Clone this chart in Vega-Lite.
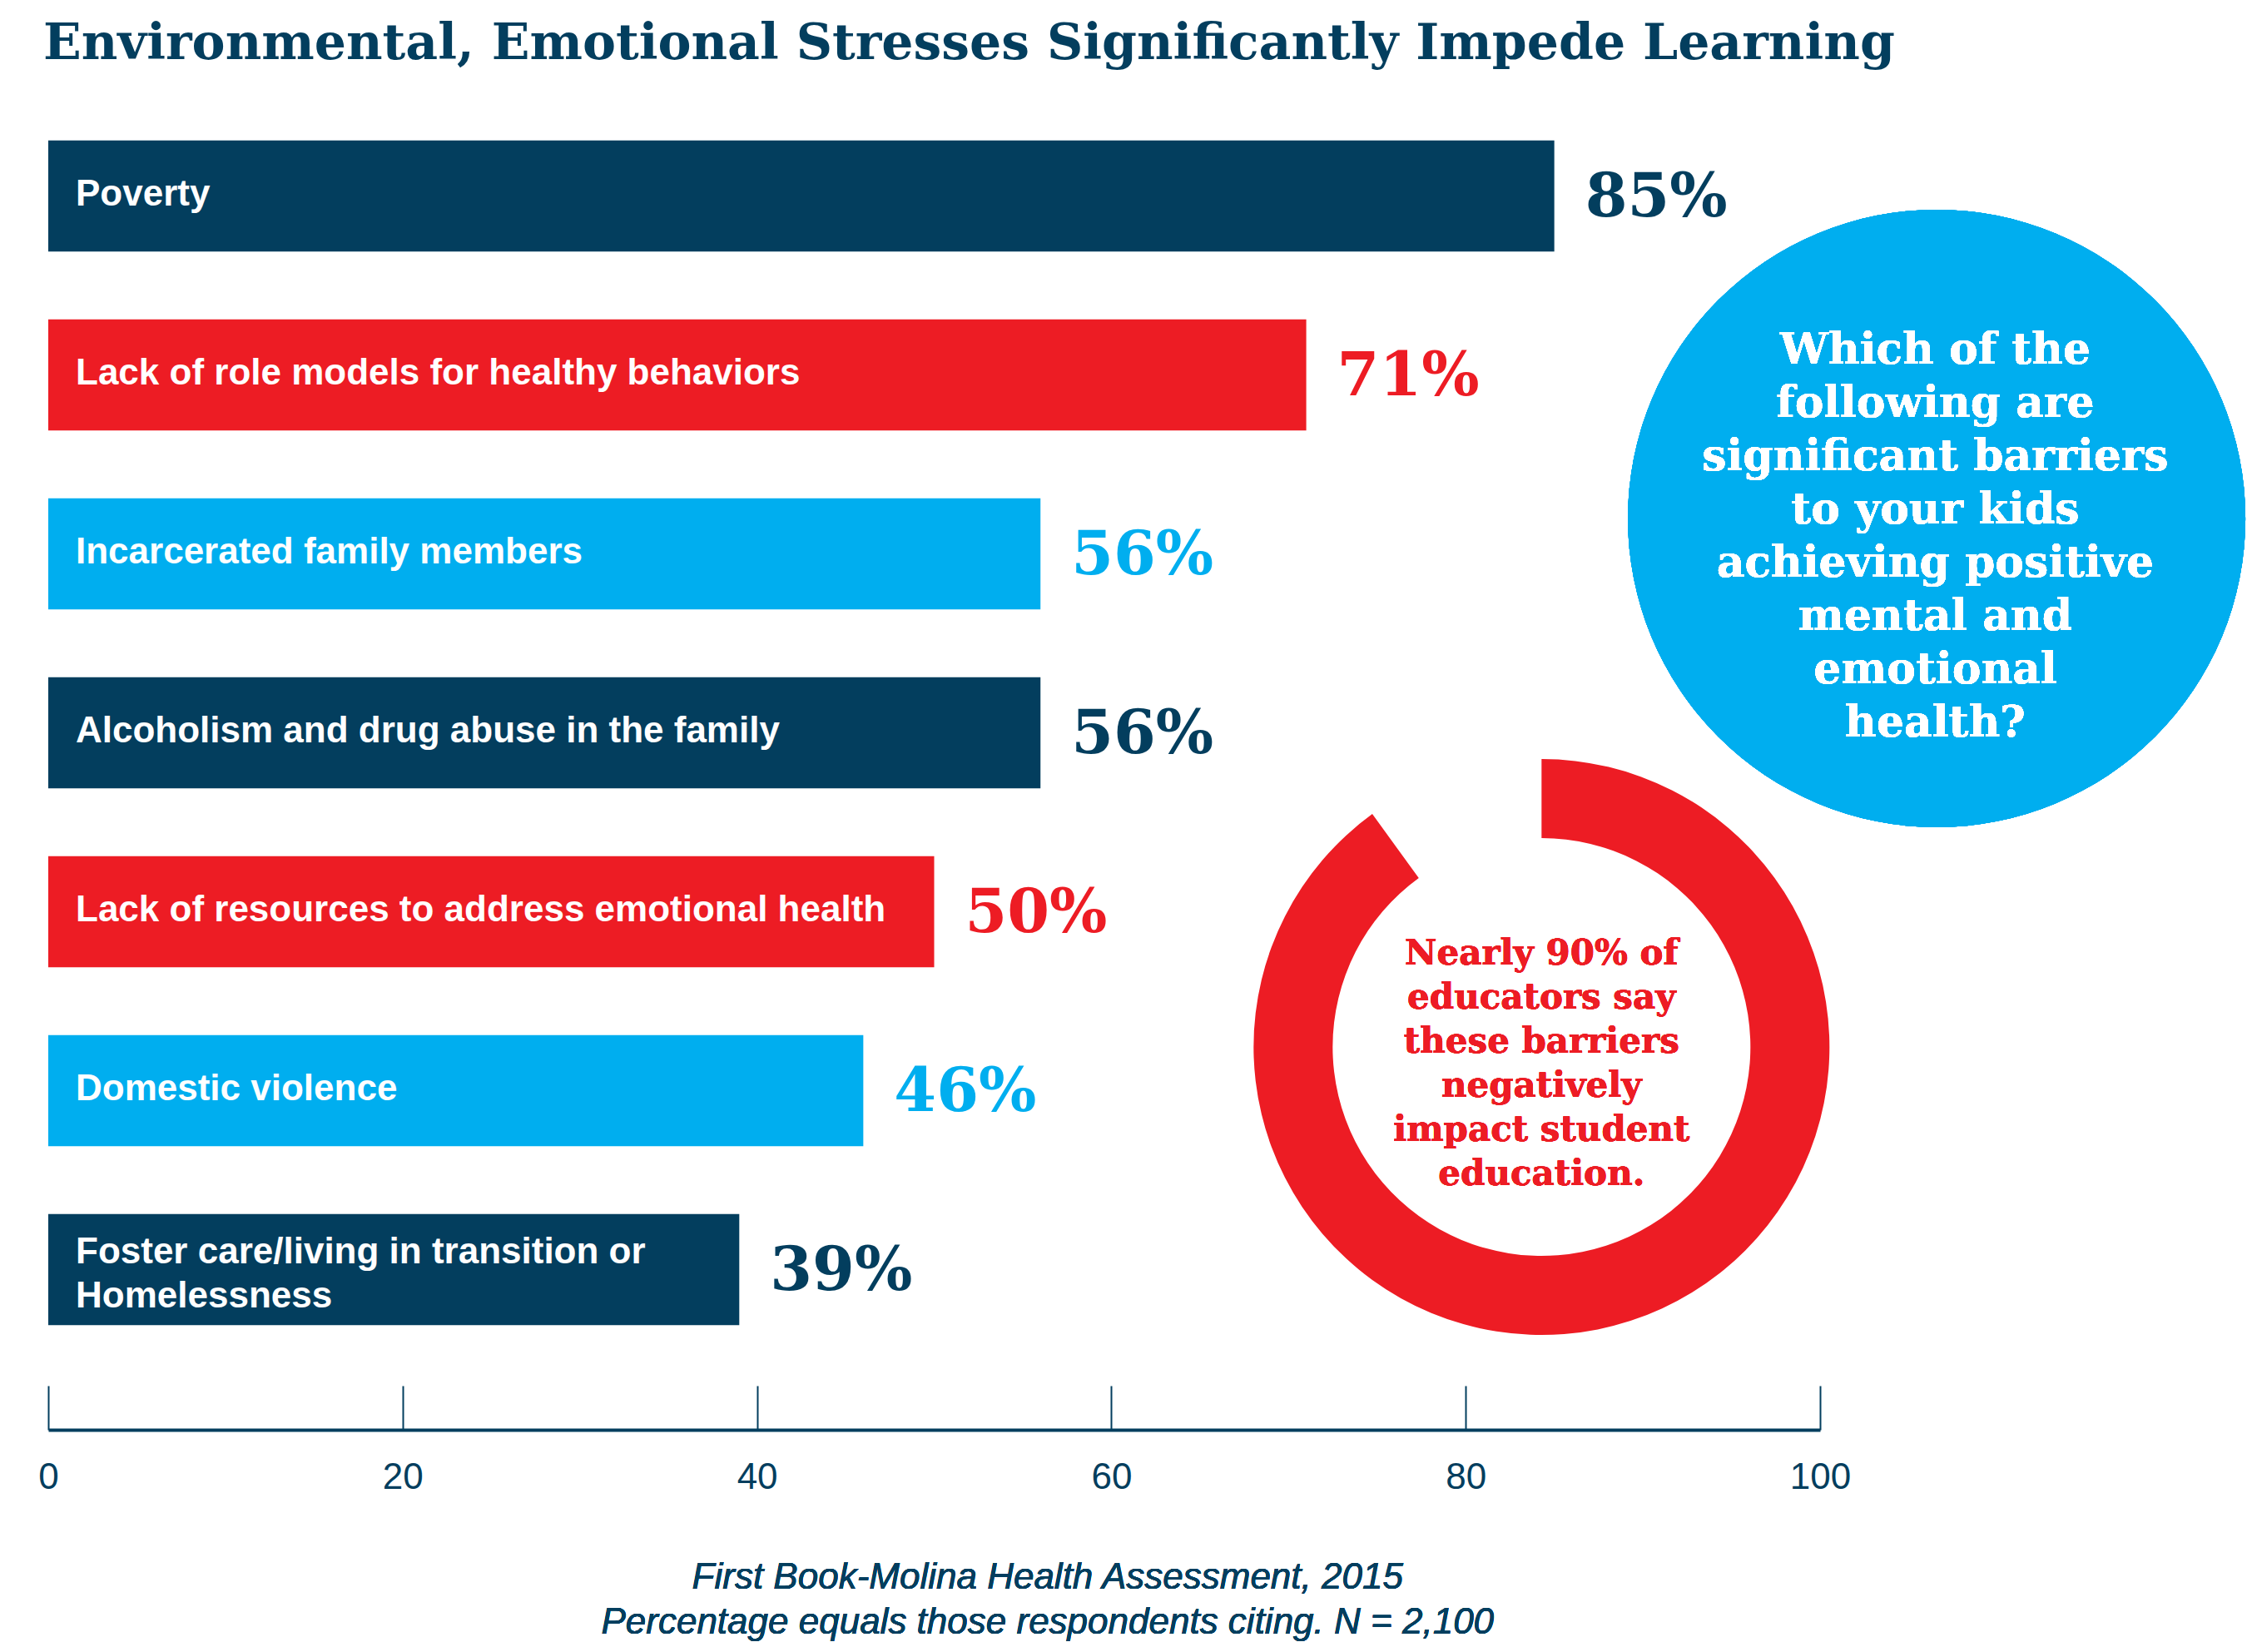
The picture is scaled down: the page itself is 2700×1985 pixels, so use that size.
{
  "$schema": "https://vega.github.io/schema/vega-lite/v6.json",
  "description": "Environmental, emotional stresses that impede learning, First Book-Molina Health Assessment 2015",
  "autosize": {"type": "none"},
  "padding": {"left": 58, "top": 128, "right": 513, "bottom": 352},
  "width": 2129,
  "height": 1505,
  "background": "white",
  "config": {"view": {"stroke": null}},
  "title": {
    "text": "Environmental, Emotional Stresses Significantly Impede Learning",
    "anchor": "start",
    "frame": "group",
    "font": "DejaVu Serif",
    "fontSize": 60,
    "fontWeight": "bold",
    "color": "#033e5e",
    "offset": 50,
    "dx": -6,
    "dy": 6
  },
  "data": {
    "values": [
      {"barrier": "Poverty", "label": "Poverty", "pct": 85},
      {"barrier": "Lack of role models", "label": "Lack of role models for healthy behaviors", "pct": 71},
      {"barrier": "Incarcerated family members", "label": "Incarcerated family members", "pct": 56},
      {"barrier": "Alcoholism and drug abuse", "label": "Alcoholism and drug abuse in the family", "pct": 56},
      {"barrier": "Lack of resources", "label": "Lack of resources to address emotional health", "pct": 50},
      {"barrier": "Domestic violence", "label": "Domestic violence", "pct": 46},
      {"barrier": "Foster care", "label": ["Foster care/living in transition or", "Homelessness"], "pct": 39}
    ]
  },
  "resolve": {"scale": {"y": "independent"}},
  "layer": [
    {
      "encoding": {
        "y": {
          "field": "barrier",
          "type": "nominal",
          "sort": null,
          "axis": null,
          "scale": {"paddingInner": 0.38, "paddingOuter": 0.19}
        }
      },
      "layer": [
        {
          "mark": {"type": "bar"},
          "encoding": {
            "x": {
              "field": "pct",
              "type": "quantitative",
              "scale": {"domain": [0, 100], "nice": false},
              "axis": {
                "values": [0, 20, 40, 60, 80, 100],
                "title": null,
                "grid": false,
                "offset": 85,
                "domainColor": "#033e5e",
                "domainWidth": 4,
                "tickColor": "#033e5e",
                "tickWidth": 2,
                "tickSize": -53,
                "labelPadding": 88,
                "labelFont": "Liberation Sans",
                "labelFontSize": 44,
                "labelColor": "#033e5e",
                "labelFlush": false
              }
            },
            "color": {
              "field": "barrier",
              "type": "nominal",
              "legend": null,
              "scale": {
                "domain": ["Poverty", "Lack of role models", "Incarcerated family members", "Alcoholism and drug abuse", "Lack of resources", "Domestic violence", "Foster care"],
                "range": ["#033e5e", "#ed1c24", "#00aeef", "#033e5e", "#ed1c24", "#00aeef", "#033e5e"]
              }
            }
          }
        },
        {
          "transform": [{"filter": "!isArray(datum.label)"}],
          "mark": {
            "type": "text",
            "align": "left",
            "baseline": "middle",
            "dx": 33,
            "dy": -2,
            "font": "Liberation Sans",
            "fontWeight": "bold",
            "fontSize": 44,
            "color": "white"
          },
          "encoding": {
            "x": {"datum": 0, "type": "quantitative"},
            "text": {"field": "label"}
          }
        },
        {
          "transform": [{"filter": "isArray(datum.label)"}],
          "mark": {
            "type": "text",
            "align": "left",
            "baseline": "middle",
            "dx": 33,
            "dy": -21,
            "font": "Liberation Sans",
            "fontWeight": "bold",
            "fontSize": 44,
            "lineHeight": 53,
            "color": "white"
          },
          "encoding": {
            "x": {"datum": 0, "type": "quantitative"},
            "text": {"field": "label"}
          }
        },
        {
          "transform": [{"calculate": "datum.pct + '%'", "as": "pctLabel"}],
          "mark": {
            "type": "text",
            "align": "left",
            "baseline": "middle",
            "dx": 37,
            "dy": 2,
            "font": "DejaVu Serif",
            "fontWeight": "bold",
            "fontSize": 73
          },
          "encoding": {
            "x": {"field": "pct", "type": "quantitative"},
            "text": {"field": "pctLabel"},
            "color": {"field": "barrier", "type": "nominal", "legend": null}
          }
        }
      ]
    },
    {
      "encoding": {
        "y": {
          "type": "quantitative",
          "axis": null,
          "scale": {"domain": [0, 7], "nice": false, "zero": false, "reverse": true}
        }
      },
      "layer": [
        {
          "mark": {"type": "point", "shape": "circle", "filled": true, "opacity": 1, "size": 550564, "color": "#00aeef"},
          "encoding": {
            "x": {"datum": 106.58, "type": "quantitative"},
            "y": {"datum": 2.302}
          }
        },
        {
          "mark": {
            "type": "text",
            "align": "center",
            "baseline": "middle",
            "font": "DejaVu Serif",
            "fontWeight": "bold",
            "fontSize": 52,
            "lineHeight": 64,
            "color": "white",
            "text": ["Which of the", "following are", "significant barriers", "to your kids", "achieving positive", "mental and", "emotional", "health?"]
          },
          "encoding": {
            "x": {"datum": 106.5, "type": "quantitative"},
            "y": {"datum": 1.365}
          }
        },
        {
          "data": {"values": [{"finding": "educators citing negative impact", "share": 90}]},
          "mark": {"type": "arc", "radius": 346, "radius2": 251, "color": "#ed1c24"},
          "encoding": {
            "theta": {"field": "share", "type": "quantitative", "scale": {"domain": [0, 100]}},
            "x": {"datum": 84.28, "type": "quantitative"},
            "y": {"datum": 5.256}
          }
        },
        {
          "mark": {
            "type": "text",
            "align": "center",
            "baseline": "middle",
            "font": "DejaVu Serif",
            "fontWeight": "bold",
            "fontSize": 42,
            "lineHeight": 53,
            "color": "#ed1c24",
            "text": ["Nearly 90% of", "educators say", "these barriers", "negatively", "impact student", "education."]
          },
          "encoding": {
            "x": {"datum": 84.28, "type": "quantitative"},
            "y": {"datum": 4.735}
          }
        },
        {
          "mark": {
            "type": "text",
            "align": "center",
            "baseline": "middle",
            "font": "Liberation Sans",
            "fontStyle": "italic",
            "fontSize": 44,
            "lineHeight": 54,
            "color": "#033e5e",
            "text": ["First Book-Molina Health Assessment, 2015", "Percentage equals those respondents citing. N = 2,100"]
          },
          "encoding": {
            "x": {"datum": 56.4, "type": "quantitative"},
            "y": {"datum": 8.221}
          }
        }
      ]
    }
  ]
}
